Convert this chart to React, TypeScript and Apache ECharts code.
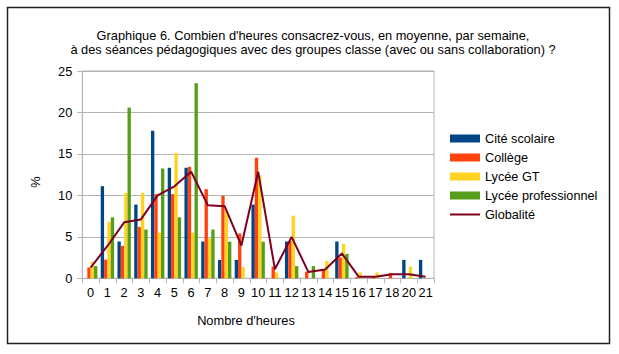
import React, { useEffect, useRef } from 'react';
import * as echarts from 'echarts';

const categories = ['0', '1', '2', '3', '4', '5', '6', '7', '8', '9', '10', '11', '12', '13', '14', '15', '16', '17', '18', '20', '21'];
const citeScolaire = [0, 11.11, 4.44, 8.89, 17.78, 13.33, 13.33, 4.44, 2.22, 2.22, 8.89, 0, 4.44, 0, 0, 4.44, 0, 0, 0, 2.22, 2.22];
const college = [1.3, 2.25, 3.9, 6.2, 10.15, 10.15, 13.45, 10.75, 9.95, 5.4, 14.55, 1.4, 4.5, 0.8, 1.1, 2.5, 0.15, 0.15, 0.65, 0, 0];
const lyceeGT = [2.0, 6.8, 10.3, 10.3, 5.5, 15.1, 5.5, 4.8, 8.2, 1.35, 12.4, 0.7, 7.55, 0, 2.1, 4.15, 0.7, 0.7, 0, 1.4, 0];
const lyceePro = [1.47, 7.35, 20.59, 5.88, 13.24, 7.35, 23.53, 5.88, 4.41, 0, 4.41, 0, 1.47, 1.47, 0, 2.94, 0, 0, 0, 0, 0];
const globalite = [1.3, 3.9, 6.75, 7.1, 10.0, 11.1, 12.85, 8.8, 8.7, 3.95, 12.85, 1.1, 5.0, 0.75, 1.05, 3.0, 0.2, 0.2, 0.5, 0.5, 0.2];
const yTicks = { min: 0, max: 25, interval: 5 };

const titleLines = [
  "Graphique 6. Combien d'heures consacrez-vous, en moyenne, par semaine,",
  'à des séances pédagogiques avec des groupes classe (avec ou sans collaboration) ?',
];

const FONT = "'Liberation Sans', Arial, sans-serif";
const GRID_COLOR = '#b3b3b3';

export default function App() {
  const ref = useRef<HTMLDivElement>(null);
  useEffect(() => {
    const chart = echarts.init(ref.current!, null, { renderer: 'svg' });
    const barSeries = (name: string, data: number[], color: string) => ({
      name,
      type: 'bar',
      data,
      barGap: '0%',
      barCategoryGap: '20%',
      itemStyle: { color },
    });
    chart.setOption({
      animation: false,
      textStyle: { fontFamily: FONT },
      title: {
        text: titleLines.join('\n'),
        left: 308,
        top: 23,
        textAlign: 'center',
        textStyle: { fontSize: 12.8, fontWeight: 'normal', color: '#000', lineHeight: 14.5, fontFamily: FONT },
      },
      graphic: [
        { type: 'rect', shape: { x: 7.5, y: 7.5, width: 602, height: 336 }, style: { fill: 'none', stroke: '#222', lineWidth: 1.5 } },
        { type: 'text', x: 246, y: 320, style: { text: "Nombre d'heures", fontSize: 12.8, fontFamily: FONT, fill: '#000', align: 'center', verticalAlign: 'middle' } },
        { type: 'text', x: 35, y: 182, rotation: Math.PI / 2, style: { text: '%', fontSize: 12.8, fontFamily: FONT, fill: '#000', align: 'center', verticalAlign: 'middle' } },
      ],
      legend: {
        orient: 'vertical',
        left: 450,
        top: 131,
        padding: 0,
        itemWidth: 30,
        itemHeight: 8,
        itemGap: 4,
        symbolKeepAspect: true,
        textStyle: { fontSize: 12.7, color: '#000', lineHeight: 15, fontFamily: FONT },
        data: [
          { name: 'Cité scolaire', icon: 'rect' },
          { name: 'Collège', icon: 'rect' },
          { name: 'Lycée GT', icon: 'rect' },
          { name: 'Lycée professionnel', icon: 'rect' },
          { name: 'Globalité', icon: 'path://M0,0 L30,0 L30,2 L0,2 Z' },
        ],
      },
      grid: { left: 82.3, right: 185, top: 71, bottom: 75.7, show: true, borderColor: GRID_COLOR, borderWidth: 1 },
      xAxis: {
        type: 'category',
        data: categories,
        axisLine: { lineStyle: { color: GRID_COLOR } },
        axisTick: { show: true, length: 5, lineStyle: { color: GRID_COLOR }, alignWithLabel: false },
        axisLabel: { color: '#000', fontSize: 12.8, margin: 8, interval: 0, fontFamily: FONT },
      },
      yAxis: {
        type: 'value',
        min: yTicks.min,
        max: yTicks.max,
        interval: yTicks.interval,
        axisLine: { show: true, lineStyle: { color: GRID_COLOR } },
        axisTick: { show: true, length: 5, lineStyle: { color: GRID_COLOR } },
        axisLabel: { color: '#000', fontSize: 12.8, margin: 10, fontFamily: FONT },
        splitLine: { lineStyle: { color: GRID_COLOR } },
      },
      series: [
        barSeries('Cité scolaire', citeScolaire, '#004586'),
        barSeries('Collège', college, '#ff420e'),
        barSeries('Lycée GT', lyceeGT, '#ffd320'),
        barSeries('Lycée professionnel', lyceePro, '#579d1c'),
        {
          name: 'Globalité',
          type: 'line',
          data: globalite,
          symbol: 'none',
          lineStyle: { color: '#7e0021', width: 2 },
          itemStyle: { color: '#7e0021' },
          z: 5,
        },
      ],
    });
    return () => chart.dispose();
  }, []);
  return <div ref={ref} style={{ position: 'fixed', left: 0, top: 0, width: 619, height: 354, background: '#fff' }} />;
}
